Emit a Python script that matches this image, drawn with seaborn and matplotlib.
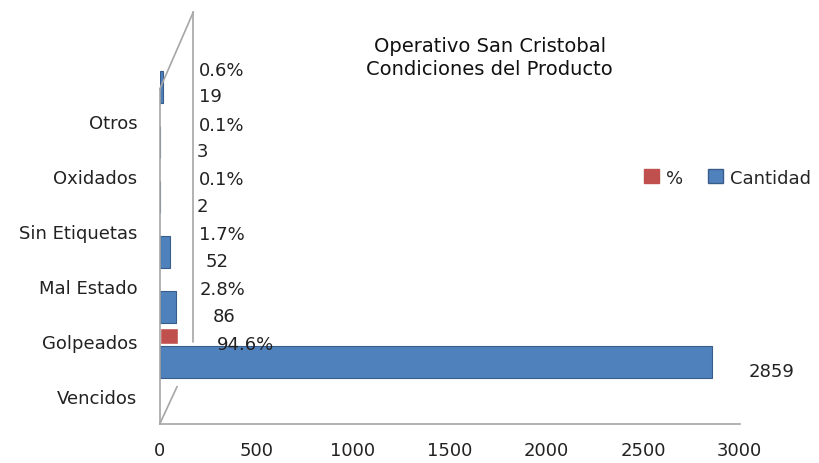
import matplotlib.pyplot as plt
import matplotlib.transforms as mtransforms
import pandas as pd
import seaborn as sns

categorias = ["Otros", "Oxidados", "Sin Etiquetas", "Mal Estado", "Golpeados", "Vencidos"]
cantidad = [19, 3, 2, 52, 86, 2859]
porcentaje = [0.6, 0.1, 0.1, 1.7, 2.8, 94.6]
x_ticks = [0, 500, 1000, 1500, 2000, 2500, 3000]

rojo = "#C0504D"
azul = "#4F81BD"
gris = "#A6A6A6"

df = pd.DataFrame({
    "categoria": categorias * 2,
    "valor": porcentaje + cantidad,
    "serie": ["%"] * len(categorias) + ["Cantidad"] * len(categorias),
})

sns.set_style("white")
plt.rcParams["font.family"] = ["DejaVu Sans"]

fig = plt.figure(figsize=(8.19, 4.64), dpi=100)
ax = fig.add_axes([0.195, 0.084, 0.708, 0.808])

sns.barplot(
    data=df, x="valor", y="categoria", hue="serie", order=categorias,
    hue_order=["%", "Cantidad"], palette=[rojo, azul], orient="h",
    width=0.85, ax=ax, legend=False, saturation=1,
)

# thin % bars on top, thicker Cantidad bars below
for patch in ax.containers[0]:
    y0 = patch.get_y()
    patch.set_y(y0 + 0.105 - 0.15)
    patch.set_height(0.3)
for patch in ax.containers[1]:
    y0 = patch.get_y()
    patch.set_y(y0 - 0.14)
    patch.set_height(0.58)
    patch.set_edgecolor("#385D8A")
    patch.set_linewidth(0.8)

pct_labels = ax.bar_label(ax.containers[0], labels=[f"{v:.1f}%" for v in porcentaje],
                          padding=28, fontsize=13, color="#222222")
for txt in pct_labels:
    x, y = txt.xyann
    txt.xyann = (x, y - 6)

cant_labels = ax.bar_label(ax.containers[1], labels=[str(v) for v in cantidad],
                           padding=26, fontsize=13, color="#222222")
for txt in cant_labels:
    txt.set_va("top")

ax.set_xlim(0, 3000)
ax.set_ylim(6.28, -0.54)
ax.set_xticks(x_ticks)
ax.set_xlabel("")
ax.set_ylabel("")
ax.tick_params(axis="x", length=0, pad=12, labelsize=13, colors="#222222")
ax.tick_params(axis="y", length=0, pad=16, labelsize=13, colors="#222222")

offset = mtransforms.ScaledTranslation(0, -0.42, fig.dpi_scale_trans)
for lbl in ax.get_yticklabels():
    lbl.set_transform(lbl.get_transform() + offset)

for side in ["top", "right"]:
    ax.spines[side].set_visible(False)
for side in ["left", "bottom"]:
    ax.spines[side].set_color(gris)
    ax.spines[side].set_linewidth(1.2)
ax.spines["left"].set_bounds(6.28, 0.187)

# pseudo 3d back wall
ax.plot([0, 0.058], [0.893, 1.099], transform=ax.transAxes, color=gris, lw=1.2, clip_on=False)
ax.plot([0.058, 0.058], [1.099, 0.22], transform=ax.transAxes, color=gris, lw=1.2, clip_on=False)
ax.plot([0, 0.03], [0.0, 0.1], transform=ax.transAxes, color=gris, lw=1.2, clip_on=False)

fig.text(0.598, 0.875, "Operativo San Cristobal\nCondiciones del Producto",
         ha="center", va="center", fontsize=14, color="#111111", linespacing=1.3)

handles = [plt.Rectangle((0, 0), 1, 1, color=rojo),
           plt.Rectangle((0, 0), 1, 1, facecolor=azul, edgecolor="#385D8A")]
fig.legend(handles, ["%", "Cantidad"], loc="center left", bbox_to_anchor=(0.767, 0.615),
           ncol=2, frameon=False, handlelength=0.8, handleheight=0.8,
           columnspacing=1.4, handletextpad=0.4, fontsize=13)

fig.savefig("out.png", dpi=100)
